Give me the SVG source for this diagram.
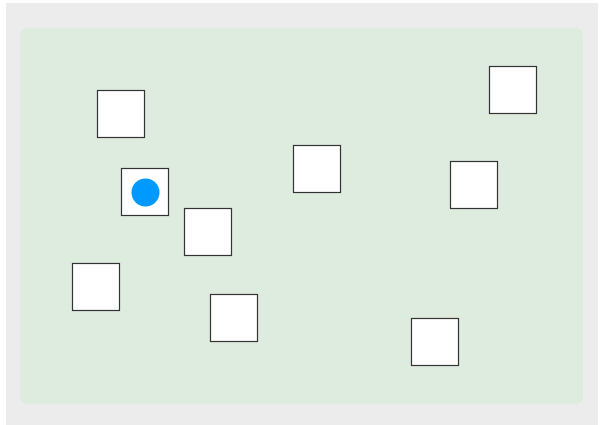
<svg xmlns="http://www.w3.org/2000/svg" width="600" height="425" viewBox="0 0 600 425">
<style>
.box{fill:#ffffff;stroke:#333333;stroke-width:1.2}
</style>
<rect x="0" y="0" width="600" height="425" fill="#ffffff"/>
<rect x="6" y="3" width="592" height="422" fill="#ececec"/>
<rect x="20" y="28" width="563" height="376" rx="7" fill="#deebdf"/>
<g id="connectors"></g>
<g id="node1"><rect class="box" x="97.5" y="90.5" width="47" height="47"/></g>
<g id="node2"><rect class="box" x="489.5" y="66.5" width="47" height="47"/></g>
<g id="node3"><rect class="box" x="293.5" y="145.5" width="47" height="47"/></g>
<g id="node4"><rect class="box" x="450.5" y="161.5" width="47" height="47"/></g>
<g id="node5"><rect class="box" x="121.5" y="168.5" width="47" height="47"/><circle cx="145.5" cy="192.5" r="14" fill="#0099ff"/></g>
<g id="node6"><rect class="box" x="184.5" y="208.5" width="47" height="47"/></g>
<g id="node7"><rect class="box" x="72.5" y="263.5" width="47" height="47"/></g>
<g id="node8"><rect class="box" x="210.5" y="294.5" width="47" height="47"/></g>
<g id="node9"><rect class="box" x="411.5" y="318.5" width="47" height="47"/></g>
</svg>
